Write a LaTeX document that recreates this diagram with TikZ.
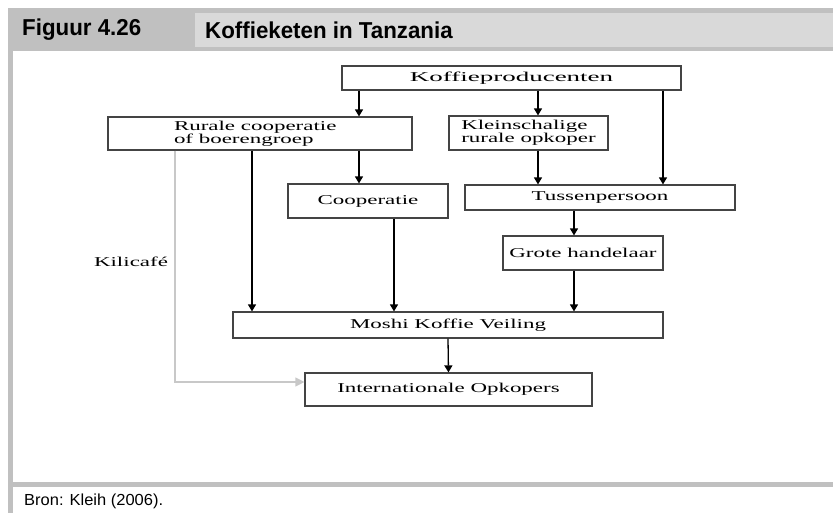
\documentclass[tikz,border=0pt]{standalone}
\usepackage{fontspec}
\usepackage{tikz}
\usetikzlibrary{positioning,arrows.meta,calc}
\newfontfamily\boxfont{Liberation Serif}[FakeStretch=1.7]
\newfontfamily\wideboxfont{Liberation Serif}[FakeStretch=2.0]
\newfontfamily\headfont{Liberation Sans}[FakeStretch=0.97]
\newfontfamily\sourcefont{Liberation Sans}[FakeStretch=1.03]
\definecolor{headdark}{HTML}{C0C0C0}
\definecolor{headlight}{HTML}{D9D9D9}
\definecolor{boxframe}{HTML}{444444}
\definecolor{kililine}{HTML}{C8C8C8}

\begin{document}
\begin{tikzpicture}[
  x=1pt, y=-1pt,
  every node/.style={inner sep=0pt},
  chainbox/.style={draw=boxframe, line width=1.2pt, fill=white, font=\boxfont\fontsize{13.5}{13}\selectfont, align=center},
  twoline/.style={chainbox, align=left},
  flow/.style={draw=black, line width=1.3pt, -{Triangle[length=7pt,width=8pt]}},
  kilipath/.style={draw=kililine, line width=1.3pt, -{Triangle[length=9pt,width=9pt]}},
  headtext/.style={font=\headfont\bfseries\fontsize{23}{25}\selectfont, anchor=west},
  sourcetext/.style={font=\sourcefont\fontsize{16}{18}\selectfont, anchor=west}
]
  \useasboundingbox (0,0) rectangle (833,513);
  % frame of the figure
  \fill[headdark]  (8,8) rectangle (833,51);
  \fill[headlight] (195,13) rectangle (833,47);
  \fill[headdark]  (8,51) rectangle (13,513);
  \fill[headdark]  (8,482) rectangle (833,487);
  \node[headtext] (fignum) at (22,30) {Figuur 4.26};
  \node[headtext] (figtitle) at (205,30) {Koffieketen in Tanzania};
  \node[sourcetext] (source) at (24,501) {Bron: Kleih (2006).};

  % boxes
  \node[chainbox, minimum width=339pt, minimum height=24pt, font=\wideboxfont\fontsize{13.5}{13}\selectfont] (prod) at (511.5,78) {Koffieproducenten};
  \node[twoline,  minimum width=304pt, minimum height=33pt] (rural)  at (260,133.5) {\makebox[172pt][l]{Rurale cooperatie}\\of boerengroep};
  \node[twoline,  minimum width=159pt, minimum height=34pt] (klein)  at (528.5,133) {Kleinschalige\\rurale opkoper};
  \node[chainbox, minimum width=160pt, minimum height=34pt] (coop)   at (368,201)   {Cooperatie};
  \node[chainbox, minimum width=270pt, minimum height=25pt] (tussen) at (600,197.5) {Tussenpersoon};
  \node[chainbox, minimum width=160pt, minimum height=34pt] (grote)  at (583,253)   {Grote handelaar};
  \node[chainbox, minimum width=430pt, minimum height=26pt] (moshi)  at (448,325)   {Moshi Koffie Veiling};
  \node[chainbox, minimum width=287pt, minimum height=33pt] (intl)   at (448.5,389.5) {Internationale Opkopers};
  \node[font=\boxfont\fontsize{13.5}{13}\selectfont] (kili) at (131,262) {Kilicafé};

  % columns of the connectors
  \coordinate (kx) at (175,382);
  \coordinate (c1) at (252,0);
  \coordinate (c2) at (359,0);
  \coordinate (c3) at (394,0);
  \coordinate (c4) at (538,0);
  \coordinate (c5) at (574,0);
  \coordinate (c6) at (663,0);

  % connectors
  \draw[flow] (prod.south -| c2) -- (rural.north -| c2);
  \draw[flow] (prod.south -| c4) -- (klein.north -| c4);
  \draw[flow] (prod.south -| c6) -- (tussen.north -| c6);
  \draw[flow] (klein.south -| c4) -- (tussen.north -| c4);
  \draw[flow] (rural.south -| c2) -- (coop.north -| c2);
  \draw[flow] (rural.south -| c1) -- (moshi.north -| c1);
  \draw[flow] (coop.south -| c3) -- (moshi.north -| c3);
  \draw[flow] (tussen.south -| c5) -- (grote.north -| c5);
  \draw[flow] (grote.south -| c5) -- (moshi.north -| c5);
  \draw[flow] (moshi.south) -- (intl.north);
  \draw[kilipath] (rural.south -| kx) -- (kx) -- (intl.west |- kx);
\end{tikzpicture}
\end{document}
